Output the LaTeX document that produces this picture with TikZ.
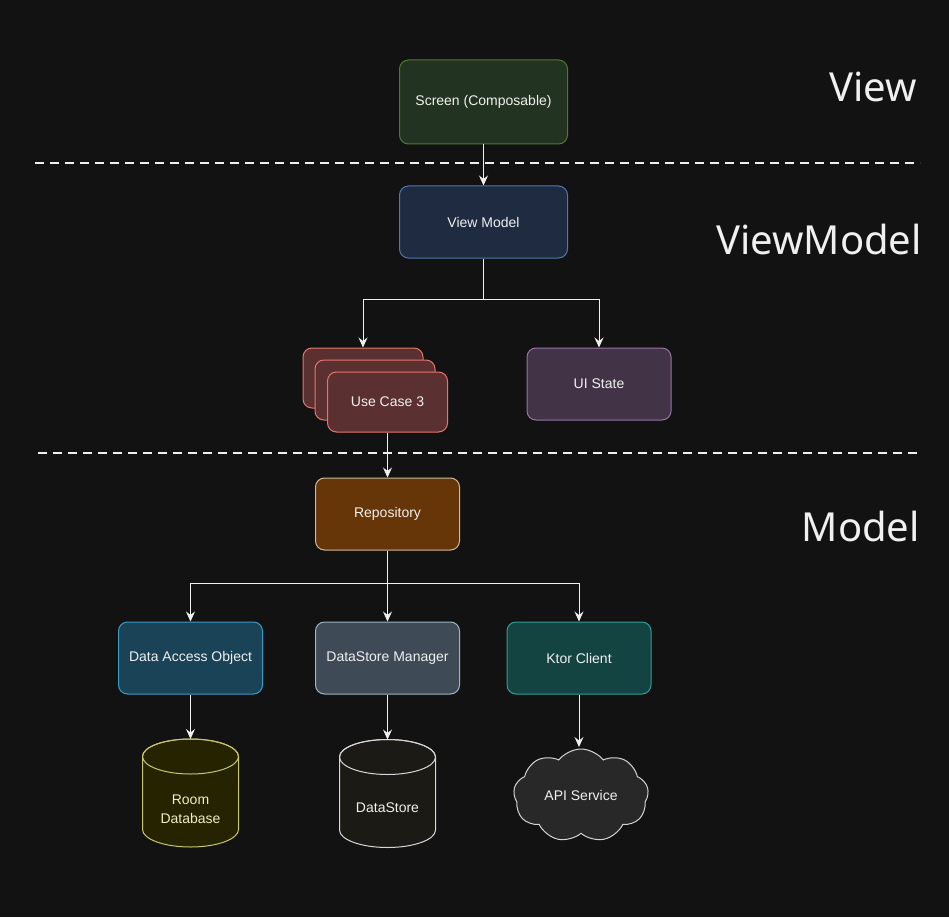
\documentclass[tikz,border=0pt]{standalone}
\usepackage{fontspec}
\setmainfont{Liberation Sans}
\newfontfamily\layerfont{Noto Sans}
\usepackage{tikz}
\usetikzlibrary{
	arrows.meta,
	shapes.symbols
}
\definecolor{BgDark}{HTML}{121212}
\definecolor{LineWhite}{HTML}{F0F0F0}
\definecolor{ScreenFill}{HTML}{233321}
\definecolor{ScreenEdge}{HTML}{4D7A2F}
\definecolor{VmFill}{HTML}{1E2B40}
\definecolor{VmEdge}{HTML}{5078B0}
\definecolor{UcFill}{HTML}{5B3030}
\definecolor{UcEdge}{HTML}{E8756B}
\definecolor{UiFill}{HTML}{423446}
\definecolor{UiEdge}{HTML}{9673A6}
\definecolor{RepoFill}{HTML}{663508}
\definecolor{RepoEdge}{HTML}{CDBB98}
\definecolor{DaoFill}{HTML}{1A4357}
\definecolor{DaoEdge}{HTML}{3C9AC4}
\definecolor{DsmFill}{HTML}{3E4A55}
\definecolor{DsmEdge}{HTML}{A2B3C2}
\definecolor{KtorFill}{HTML}{134441}
\definecolor{KtorEdge}{HTML}{2D9E97}
\definecolor{RoomFill}{HTML}{262400}
\definecolor{RoomEdge}{HTML}{C8C868}
\definecolor{RoomText}{HTML}{EEEEC0}
\definecolor{StoreFill}{HTML}{1C1A14}
\definecolor{CloudFill}{HTML}{282828}

\begin{document}
\begin{tikzpicture}[x=1pt, y=-1pt,
	box/.style={draw, rounded corners=9pt, line width=1pt, minimum width=144pt,
		minimum height=72pt, text=LineWhite, font=\fontsize{14}{17}\selectfont, align=center},
	flow/.style={draw=LineWhite, line width=1pt, -{Stealth[length=10pt, width=9pt, inset=3.5pt]}},
	layer/.style={text=LineWhite, font=\layerfont\fontsize{40}{44}\selectfont, anchor=base east, inner sep=0pt},
	divider/.style={draw=LineWhite, line width=2pt, dash pattern=on 9pt off 6pt},
	storetext/.style={text=LineWhite, font=\fontsize{14}{19}\selectfont, align=center}]
				\fill[BgDark] (0,0) rectangle (949,917);
				\useasboundingbox (0,0) rectangle (949,917);
				% layer names and dividers
				\node[layer] (viewlabel) at (917,102) {View};
				\node[layer] (vmlabel) at (922,254) {ViewModel};
				\node[layer] (modellabel) at (920,541) {Model};
				\coordinate (div1a) at (35,163);
				\coordinate (div1b) at (920,163);
				\coordinate (div2a) at (38,453);
				\coordinate (div2b) at (920,453);
				\draw[divider] (div1a) -- (div1b);
				\draw[divider] (div2a) -- (div2b);
				% view and view model
				\node[box, fill=ScreenFill, draw=ScreenEdge, minimum width=168pt, minimum height=84pt] (screen) at (483.5,102) {Screen (Composable)};
				\node[box, fill=VmFill, draw=VmEdge, minimum width=168pt] (viewmodel) at (483.5,222) {View Model};
				\node[box, fill=UcFill, draw=UcEdge, minimum width=120pt, minimum height=60pt] (usecase1) at (363,378) {};
				\node[box, fill=UcFill, draw=UcEdge, minimum width=120pt, minimum height=60pt] (usecase2) at (375,390) {};
				\node[box, fill=UcFill, draw=UcEdge, minimum width=120pt, minimum height=60pt] (usecase3) at (387.5,402) {Use Case 3};
				\node[box, fill=UiFill, draw=UiEdge] (uistate) at (599,384) {UI State};
				% model
				\node[box, fill=RepoFill, draw=RepoEdge] (repo) at (387.5,514) {Repository};
				\node[box, fill=DaoFill, draw=DaoEdge] (dao) at (190.5,658) {Data Access Object};
				\node[box, fill=DsmFill, draw=DsmEdge] (dsmanager) at (387.5,658) {DataStore Manager};
				\node[box, fill=KtorFill, draw=KtorEdge] (ktor) at (579,658) {Ktor Client};
				% storage cylinders
				\draw[fill=RoomFill, draw=RoomEdge, line width=1pt] (142.5,756.5) -- (142.5,829.5)
					arc (180:0:48 and 17.5) -- (238.5,756.5) arc (0:-180:48 and 17.5) -- cycle;
				\draw[draw=RoomEdge, line width=1pt] (190.5,756.5) ellipse (48 and 17.5);
				\node[storetext, text=RoomText] (roomtext) at (190.5,809) {Room\\Database};
				\draw[fill=StoreFill, draw=LineWhite!90!black, line width=1pt] (339.5,757) -- (339.5,830)
					arc (180:0:48 and 17.5) -- (435.5,757) arc (0:-180:48 and 17.5) -- cycle;
				\draw[draw=LineWhite!90!black, line width=1pt] (387.5,757) ellipse (48 and 17.5);
				\node[storetext] (storetext) at (387.5,808) {DataStore};
				\coordinate (roomtop) at (190.5,739);
				\coordinate (storetop) at (387.5,739.5);
				\node[cloud, cloud puffs=9, cloud puff arc=105, aspect=1.45, draw=LineWhite!88!black, fill=CloudFill,
					line width=1pt, minimum width=135pt, minimum height=93pt, text=LineWhite,
					font=\fontsize{14}{17}\selectfont] (api) at (581,795.5) {API Service};
				% connectors
				\coordinate (vmsplit) at (483.5,299);
				\coordinate (reposplit) at (387.5,583);
				\coordinate (apitop) at (579,747);
				\draw[flow] (screen) -- (viewmodel);
				\draw[draw=LineWhite, line width=1pt] (viewmodel) -- (vmsplit);
				\draw[flow] (vmsplit) -| (usecase1.north);
				\draw[flow] (vmsplit) -| (uistate.north);
				\draw[flow] (usecase3) -- (repo);
				\draw[draw=LineWhite, line width=1pt] (repo) -- (reposplit);
				\draw[flow] (reposplit) -| (dao.north);
				\draw[flow] (reposplit) -- (dsmanager.north);
				\draw[flow] (reposplit) -| (ktor.north);
				\draw[flow] (dao) -- (roomtop);
				\draw[flow] (dsmanager) -- (storetop);
				\draw[flow] (ktor) -- (apitop);
			\end{tikzpicture}
\end{document}
